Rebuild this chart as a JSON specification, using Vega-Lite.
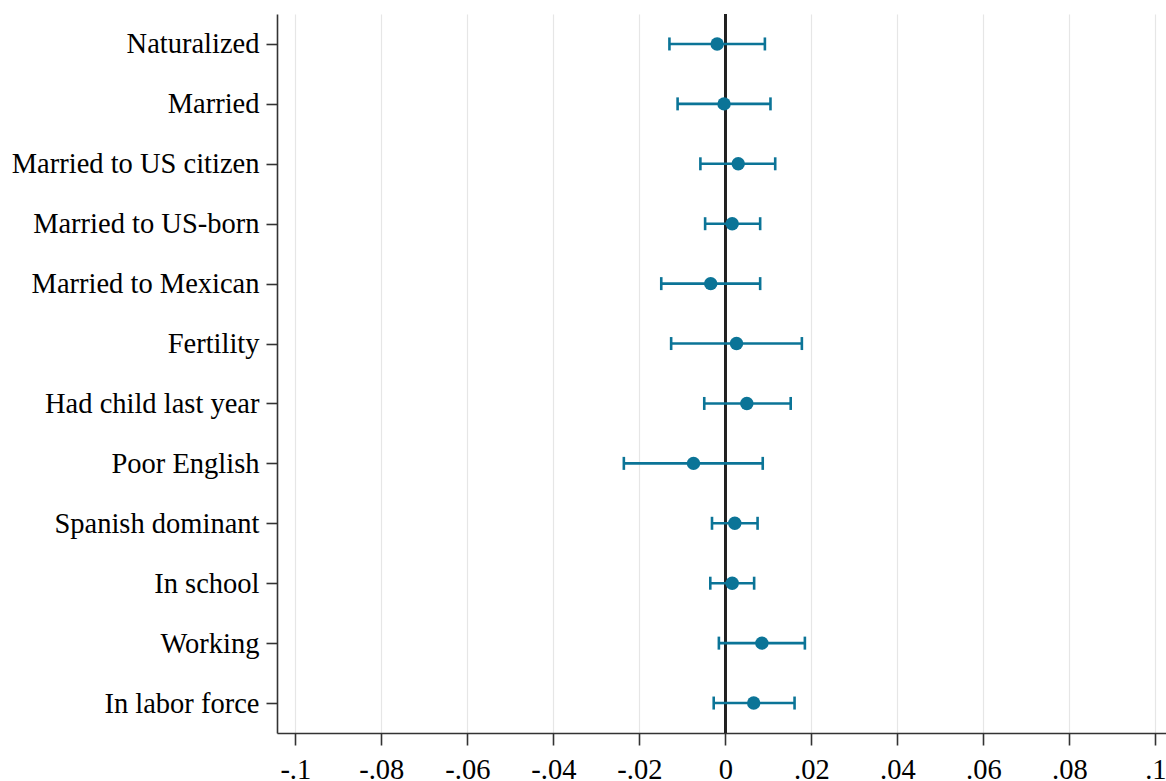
{
  "$schema": "https://vega.github.io/schema/vega-lite/v6.json",
  "autosize": {"type": "none"},
  "width": 889,
  "height": 719,
  "padding": {"left": 277, "top": 14, "right": 0, "bottom": 48},
  "background": "white",
  "config": {
    "view": {"stroke": null},
    "font": "Liberation Serif",
    "axis": {
      "labelFont": "Liberation Serif",
      "labelFontSize": 28.5,
      "labelColor": "#000000",
      "labelLimit": 0,
      "domainColor": "#333333",
      "domainWidth": 1.6,
      "tickColor": "#333333",
      "tickWidth": 1.6
    }
  },
  "data": {
    "values": [
      {"label": "Naturalized", "est": -0.0019, "lo": -0.0130, "hi": 0.0092},
      {"label": "Married", "est": -0.0003, "lo": -0.0111, "hi": 0.0105},
      {"label": "Married to US citizen", "est": 0.0030, "lo": -0.0058, "hi": 0.0116},
      {"label": "Married to US-born", "est": 0.0016, "lo": -0.0047, "hi": 0.0081},
      {"label": "Married to Mexican", "est": -0.0034, "lo": -0.0149, "hi": 0.0081},
      {"label": "Fertility", "est": 0.0026, "lo": -0.0126, "hi": 0.0178},
      {"label": "Had child last year", "est": 0.0050, "lo": -0.0049, "hi": 0.0152},
      {"label": "Poor English", "est": -0.0074, "lo": -0.0236, "hi": 0.0087},
      {"label": "Spanish dominant", "est": 0.0022, "lo": -0.0031, "hi": 0.0075},
      {"label": "In school", "est": 0.0016, "lo": -0.0035, "hi": 0.0067},
      {"label": "Working", "est": 0.0085, "lo": -0.0015, "hi": 0.0185},
      {"label": "In labor force", "est": 0.0066, "lo": -0.0027, "hi": 0.0161}
    ]
  },
  "encoding": {
    "y": {
      "field": "label",
      "type": "nominal",
      "sort": null,
      "scale": {"type": "point", "padding": 0.5},
      "axis": {"title": null, "grid": false, "tickSize": 11, "labelPadding": 7}
    }
  },
  "layer": [
    {
      "mark": {"type": "rule", "color": "#222222", "strokeWidth": 2},
      "encoding": {
        "y": null,
        "x": {
          "datum": 0,
          "type": "quantitative",
          "scale": {"domain": [-0.10426, 0.10248], "nice": false, "zero": false},
          "axis": {
            "title": null,
            "values": [-0.1, -0.08, -0.06, -0.04, -0.02, 0, 0.02, 0.04, 0.06, 0.08, 0.1],
            "grid": true,
            "gridColor": "#e6e6e6",
            "gridWidth": 1.2,
            "tickSize": 12,
            "labelPadding": 10,
            "labelExpr": "datum.value == 0 ? '0' : (datum.value < 0 ? '-' : '') + replace(format(abs(datum.value), '.2~f'), '0.', '.')"
          }
        }
      }
    },
    {
      "mark": {"type": "rule", "color": "#0b7497", "strokeWidth": 2.6},
      "encoding": {
        "x": {"field": "lo", "type": "quantitative"},
        "x2": {"field": "hi"}
      }
    },
    {
      "mark": {"type": "tick", "color": "#0b7497", "thickness": 2.6, "size": 13, "opacity": 1},
      "encoding": {"x": {"field": "lo", "type": "quantitative"}}
    },
    {
      "mark": {"type": "tick", "color": "#0b7497", "thickness": 2.6, "size": 13, "opacity": 1},
      "encoding": {"x": {"field": "hi", "type": "quantitative"}}
    },
    {
      "mark": {"type": "point", "shape": "circle", "filled": true, "color": "#0b7497", "size": 180, "opacity": 1},
      "encoding": {"x": {"field": "est", "type": "quantitative"}}
    }
  ]
}
